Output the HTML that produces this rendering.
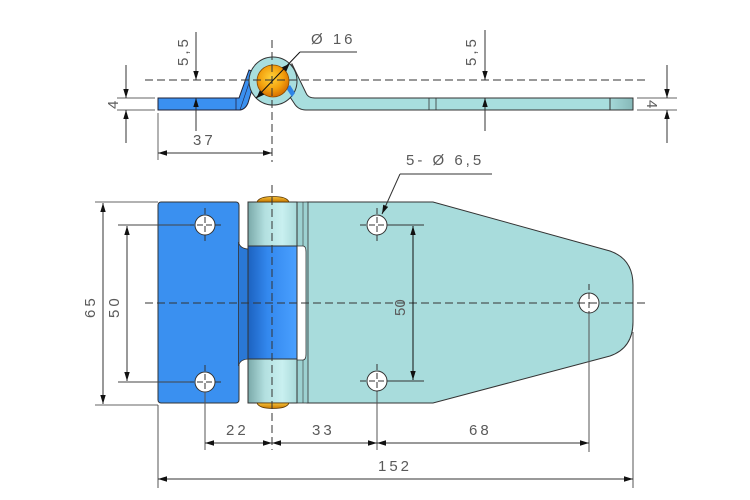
<!DOCTYPE html>
<html><head><meta charset="utf-8"><style>
html,body{margin:0;padding:0;background:#fff;}
svg{display:block;}
text{font-family:"Liberation Sans",sans-serif;font-size:15px;fill:#5a5a5a;letter-spacing:3px;}
</style></head><body>
<svg width="750" height="500" viewBox="0 0 750 500" xmlns="http://www.w3.org/2000/svg">
<defs>
<marker id="ar" viewBox="0 0 10 6" refX="10" refY="3" markerWidth="9" markerHeight="6" markerUnits="userSpaceOnUse" orient="auto-start-reverse"><path d="M0,0 L10,3 L0,6 Z" fill="#111"/></marker>
<radialGradient id="og" cx="0.45" cy="0.4" r="0.6"><stop offset="0" stop-color="#ffd23a"/><stop offset="0.6" stop-color="#f3a20e"/><stop offset="1" stop-color="#d86f00"/></radialGradient>
<linearGradient id="bar" x1="0" x2="1" y1="0" y2="0"><stop offset="0" stop-color="#7aa9a9"/><stop offset="0.35" stop-color="#b3e0e0"/><stop offset="0.7" stop-color="#c9f0f0"/><stop offset="1" stop-color="#a9dada"/></linearGradient>
<linearGradient id="bk" x1="0" x2="1" y1="0" y2="0"><stop offset="0" stop-color="#1c62c0"/><stop offset="0.4" stop-color="#3388ee"/><stop offset="1" stop-color="#4aa0ff"/></linearGradient>
<linearGradient id="gold" x1="0" x2="0" y1="0" y2="1"><stop offset="0" stop-color="#f6c23a"/><stop offset="1" stop-color="#c87800"/></linearGradient>
<linearGradient id="tip" x1="0" x2="1"><stop offset="0" stop-color="#a4d8d8"/><stop offset="1" stop-color="#86b8b8"/></linearGradient>
</defs>

<!-- ===== TOP VIEW ===== -->
<!-- left blue plate + bend -->
<path d="M158,98 L239,98 L249,70 L257,73 L248,103 Q245,110 239,110 L158,110 Z" fill="#3a90f0" stroke="#223" stroke-width="1"/>
<line x1="236" y1="98" x2="236" y2="110" stroke="#224" stroke-width="0.8"/>
<line x1="240" y1="110" x2="250" y2="80" stroke="#224" stroke-width="0.6"/>
<!-- right cyan plate + bend -->
<path d="M292,64 L306,93 Q308,98 315,98 L633,98 L633,110 L306,110 Q298,110 294,103 L284,88 Z" fill="#a8dede" stroke="#333" stroke-width="1"/>
<rect x="610" y="98" width="23" height="12" fill="url(#tip)" stroke="#333" stroke-width="1"/>
<line x1="429" y1="98" x2="429" y2="110" stroke="#333" stroke-width="0.8"/>
<line x1="436" y1="98" x2="436" y2="110" stroke="#333" stroke-width="0.8"/>
<!-- ring -->
<circle cx="273" cy="81" r="24" fill="#a8dede" stroke="#333" stroke-width="1"/>
<path d="M286,88 L292,97 L295,93 L290,85 Z" fill="#2f84e6"/>
<circle cx="273" cy="81" r="16" fill="url(#og)" stroke="#8a4a00" stroke-width="0.8"/>

<!-- center lines top -->
<line x1="145" y1="80" x2="648" y2="80" stroke="#333" stroke-width="1" stroke-dasharray="8,4"/>
<line x1="272" y1="40" x2="272" y2="162" stroke="#333" stroke-width="1" stroke-dasharray="8,4"/>

<!-- Ø16 leader -->
<line x1="357" y1="52" x2="300" y2="52" stroke="#333" stroke-width="1"/>
<line x1="300" y1="52" x2="256" y2="98" stroke="#111" stroke-width="1"/>
<polygon points="289.6,63.7 286.2,71.6 281.8,67.4" fill="#111"/>
<polygon points="256.4,98.3 264.2,94.6 259.8,90.4" fill="#111"/>
<text x="311" y="44">Ø 16</text>

<!-- 5,5 left -->
<line x1="196" y1="32" x2="196" y2="80" stroke="#333" stroke-width="1" marker-end="url(#ar)"/>
<line x1="196" y1="131" x2="196" y2="98" stroke="#333" stroke-width="1" marker-end="url(#ar)"/>
<text transform="translate(188,66) rotate(-90)">5,5</text>
<!-- 5,5 right -->
<line x1="485" y1="30" x2="485" y2="80" stroke="#333" stroke-width="1" marker-end="url(#ar)"/>
<line x1="485" y1="131" x2="485" y2="98" stroke="#333" stroke-width="1" marker-end="url(#ar)"/>
<text transform="translate(476,66) rotate(-90)">5,5</text>

<!-- 4 left -->
<line x1="117" y1="98" x2="155" y2="98" stroke="#666" stroke-width="1"/>
<line x1="117" y1="110" x2="155" y2="110" stroke="#666" stroke-width="1"/>
<line x1="126" y1="65" x2="126" y2="98" stroke="#333" stroke-width="1" marker-end="url(#ar)"/>
<line x1="126" y1="143" x2="126" y2="110" stroke="#333" stroke-width="1" marker-end="url(#ar)"/>
<text transform="translate(118,109) rotate(-90)" style="letter-spacing:0">4</text>
<!-- 4 right -->
<line x1="637" y1="98" x2="677" y2="98" stroke="#666" stroke-width="1"/>
<line x1="637" y1="110" x2="677" y2="110" stroke="#666" stroke-width="1"/>
<line x1="667" y1="65" x2="667" y2="98" stroke="#333" stroke-width="1" marker-end="url(#ar)"/>
<line x1="667" y1="143" x2="667" y2="110" stroke="#333" stroke-width="1" marker-end="url(#ar)"/>
<text transform="translate(647,100) rotate(90)" style="letter-spacing:0">4</text>

<!-- 37 -->
<line x1="158" y1="113" x2="158" y2="160" stroke="#666" stroke-width="1"/>
<line x1="158" y1="153" x2="272" y2="153" stroke="#333" stroke-width="1" marker-start="url(#ar)" marker-end="url(#ar)"/>
<text x="193" y="145">37</text>

<!-- ===== FRONT VIEW ===== -->
<rect x="158" y="202" width="81" height="201" rx="3" fill="#3a90f0" stroke="#333" stroke-width="1"/>
<path d="M238.5,242 Q240,249 249,249 L249,359 Q240,359 238.5,366 Z" fill="#2a78d6" stroke="#333" stroke-width="0.8"/>
<path d="M307,202 L433,202 L610,251 Q633,259 633,285 L633,322 Q633,348 610,356 L433,403 L307,403 Z" fill="#a8dcdc" stroke="#333" stroke-width="1"/>
<rect x="297" y="202" width="11" height="201" fill="#9dd2d2" stroke="#333" stroke-width="0.8"/>
<line x1="303" y1="202" x2="303" y2="403" stroke="#333" stroke-width="0.6"/>
<path d="M297,246 L303,246 Q306,246 306,252 L306,354 Q306,360 303,360 L297,360 Z" fill="#fff" stroke="#333" stroke-width="0.8"/>
<rect x="248" y="202" width="49" height="44" fill="url(#bar)" stroke="#333" stroke-width="1"/>
<rect x="248" y="359" width="49" height="44" fill="url(#bar)" stroke="#333" stroke-width="1"/>
<rect x="248" y="246" width="49" height="113" fill="url(#bk)" stroke="#333" stroke-width="1"/>
<!-- gold caps -->
<path d="M257,202 Q259,196.5 273,196.5 Q287,196.5 289,202 Z" fill="url(#gold)" stroke="#553300" stroke-width="0.8"/>
<path d="M257,403 Q259,408.5 273,408.5 Q287,408.5 289,403 Z" fill="url(#gold)" stroke="#553300" stroke-width="0.8"/>

<!-- holes -->
<g fill="#fff" stroke="#333" stroke-width="1">
<circle cx="205" cy="225" r="10"/>
<circle cx="205" cy="382" r="10"/>
<circle cx="377" cy="225" r="10"/>
<circle cx="377" cy="381" r="10"/>
<circle cx="589" cy="303" r="10"/>
</g>
<g stroke="#333" stroke-width="1" stroke-dasharray="6,3">
<line x1="188" y1="225" x2="222" y2="225"/><line x1="205" y1="208" x2="205" y2="242"/>
<line x1="188" y1="382" x2="222" y2="382"/><line x1="205" y1="365" x2="205" y2="392"/>
<line x1="360" y1="225" x2="394" y2="225"/><line x1="377" y1="208" x2="377" y2="242"/>
<line x1="360" y1="381" x2="394" y2="381"/><line x1="377" y1="364" x2="377" y2="392"/>
<line x1="589" y1="284" x2="589" y2="313"/>
</g>

<line x1="145" y1="303" x2="648" y2="303" stroke="#333" stroke-width="1" stroke-dasharray="8,4"/>
<line x1="272" y1="185" x2="272" y2="450" stroke="#333" stroke-width="1" stroke-dasharray="8,4"/>

<!-- 65 -->
<line x1="95" y1="202" x2="158" y2="202" stroke="#666" stroke-width="1"/>
<line x1="95" y1="405" x2="158" y2="405" stroke="#666" stroke-width="1"/>
<line x1="103" y1="203" x2="103" y2="404" stroke="#333" stroke-width="1" marker-start="url(#ar)" marker-end="url(#ar)"/>
<text transform="translate(95,318) rotate(-90)">65</text>
<!-- 50 left -->
<line x1="118" y1="225" x2="190" y2="225" stroke="#444" stroke-width="1"/>
<line x1="118" y1="382" x2="190" y2="382" stroke="#444" stroke-width="1"/>
<line x1="127" y1="226" x2="127" y2="381" stroke="#333" stroke-width="1" marker-start="url(#ar)" marker-end="url(#ar)"/>
<text transform="translate(119,318) rotate(-90)">50</text>

<!-- 50 right -->
<line x1="392" y1="225" x2="424" y2="225" stroke="#333" stroke-width="1"/>
<line x1="392" y1="381" x2="424" y2="381" stroke="#333" stroke-width="1"/>
<line x1="413" y1="226" x2="413" y2="380" stroke="#111" stroke-width="1" marker-start="url(#ar)" marker-end="url(#ar)"/>
<text transform="translate(405,316) rotate(-90)" style="letter-spacing:0">50</text>

<!-- leader 5-Ø6,5 -->
<line x1="492" y1="174" x2="400" y2="174" stroke="#333" stroke-width="1"/>
<line x1="400" y1="174" x2="382" y2="214" stroke="#333" stroke-width="1" marker-end="url(#ar)"/>
<text x="406" y="165">5- Ø 6,5</text>

<g stroke="#555" stroke-width="1">
<line x1="205" y1="392" x2="205" y2="450"/>
<line x1="377" y1="392" x2="377" y2="450"/>
<line x1="589" y1="313" x2="589" y2="452"/>
<line x1="158" y1="405" x2="158" y2="488"/>
<line x1="633" y1="332" x2="633" y2="488"/>
</g>
<line x1="205" y1="443" x2="272" y2="443" stroke="#333" stroke-width="1" marker-start="url(#ar)" marker-end="url(#ar)"/>
<line x1="272" y1="443" x2="377" y2="443" stroke="#333" stroke-width="1" marker-start="url(#ar)" marker-end="url(#ar)"/>
<line x1="377" y1="443" x2="589" y2="443" stroke="#333" stroke-width="1" marker-start="url(#ar)" marker-end="url(#ar)"/>
<line x1="158" y1="479" x2="633" y2="479" stroke="#333" stroke-width="1" marker-start="url(#ar)" marker-end="url(#ar)"/>
<text x="226" y="435">22</text>
<text x="312" y="435">33</text>
<text x="469" y="435">68</text>
<text x="378" y="471">152</text>
</svg>
</body></html>
